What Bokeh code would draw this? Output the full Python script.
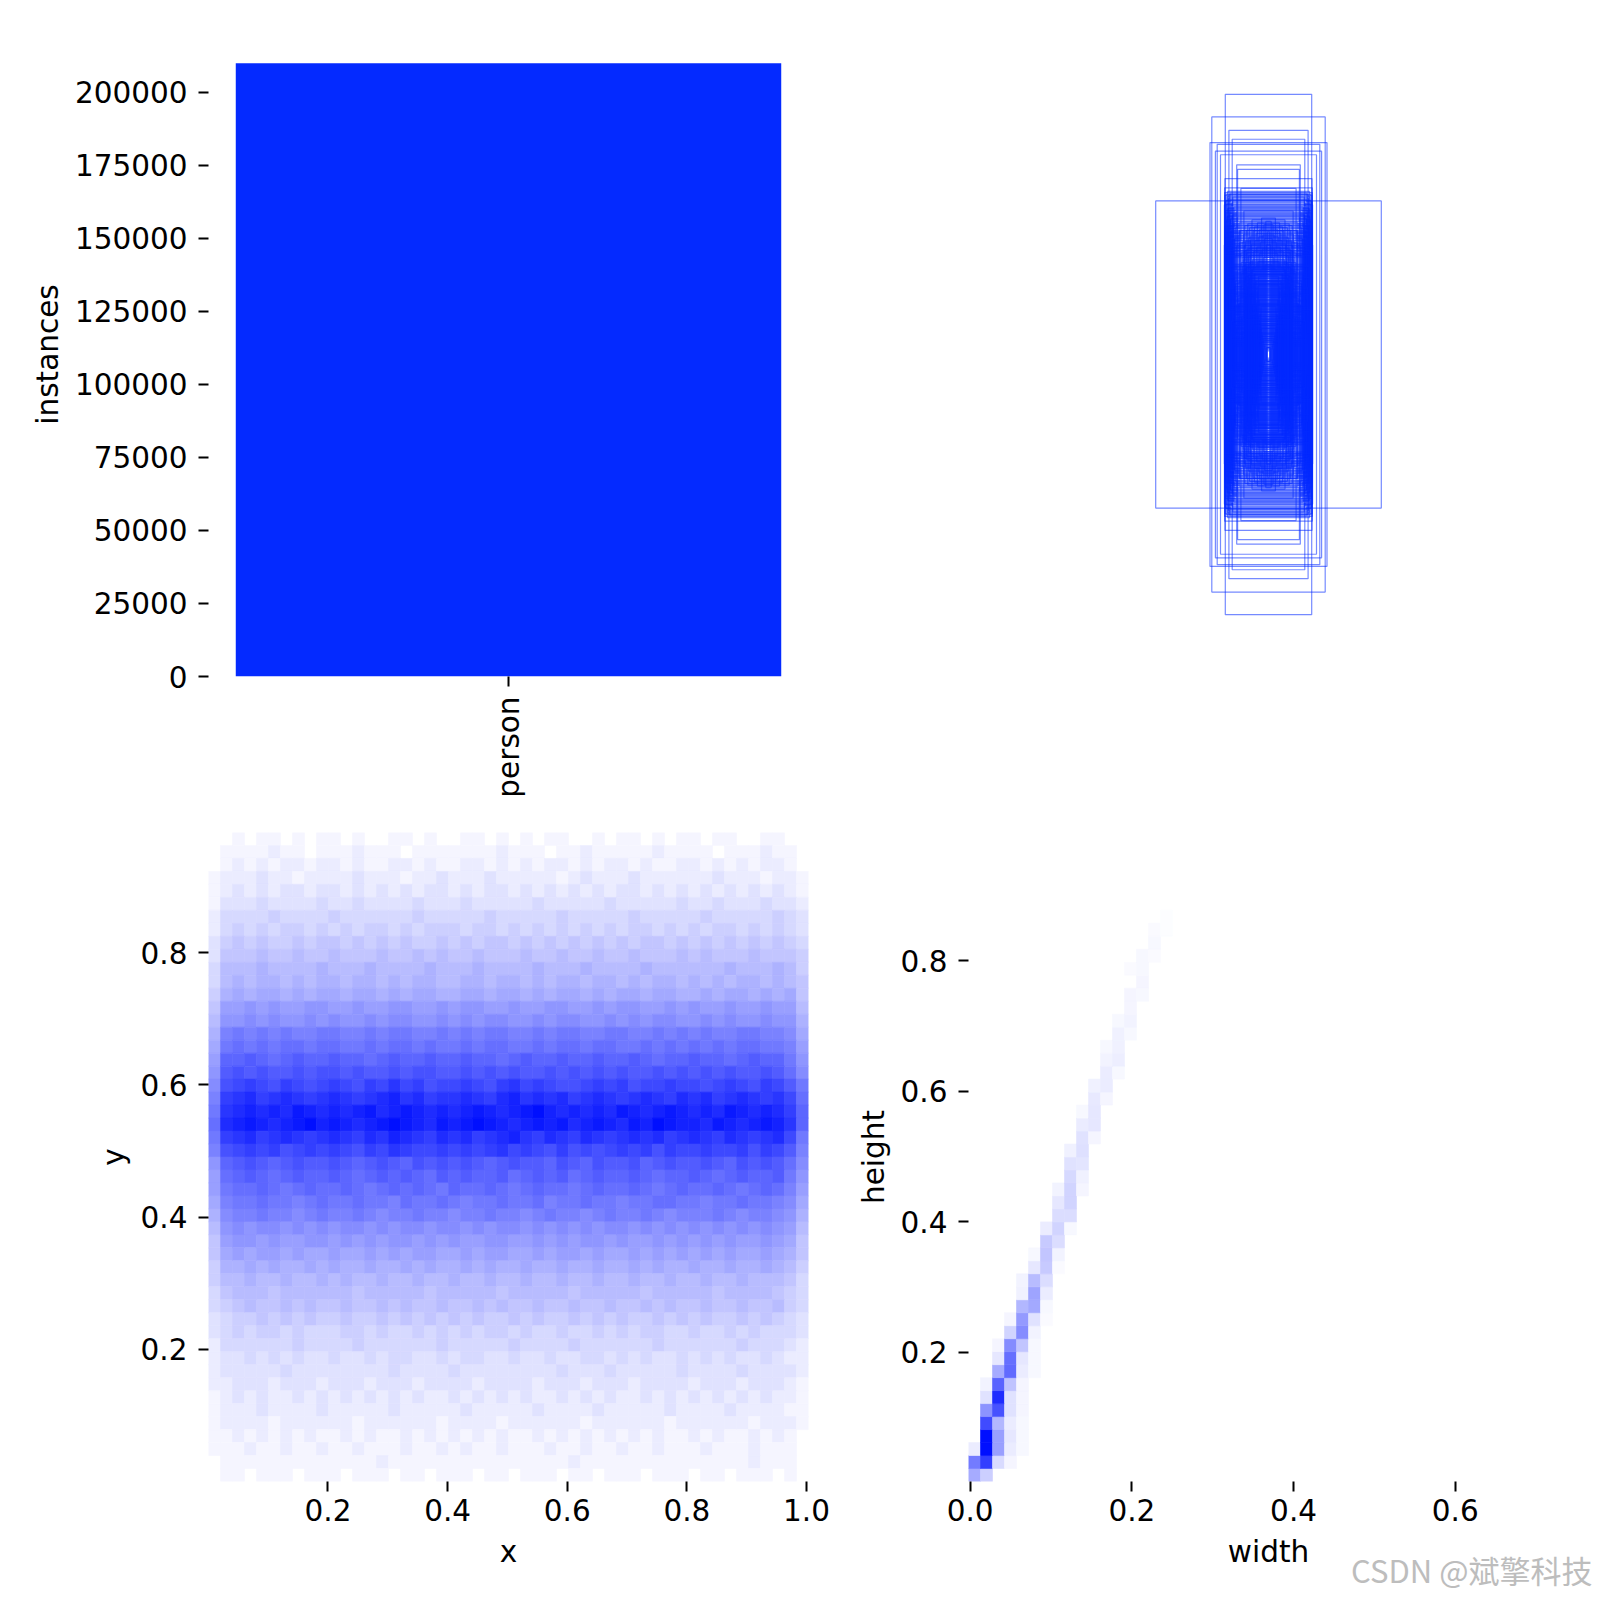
import math
from bokeh.plotting import figure
from bokeh.layouts import column, row
from bokeh.models import (Range1d, FixedTicker, NumeralTickFormatter,
                          PrintfTickFormatter, Title, ColumnDataSource)
from bokeh.embed import file_html
from bokeh.resources import INLINE

# ---------------- data ----------------
class_names = ["person"]
class_counts = [210000]
count_ticks = [0, 25000, 50000, 75000, 100000, 125000, 150000, 175000, 200000]

# boxes (normalised width, height), all drawn centred on the canvas
box_w = [0.144, 0.189, 0.132, 0.121, 0.195, 0.171, 0.177, 0.160, 0.106, 0.103, 0.145, 0.146, 0.376, 0.092, 0.132,
         0.082, 0.097, 0.060, 0.076, 0.057, 0.049, 0.039, 0.005,
         0.146, 0.141, 0.137, 0.132, 0.128, 0.144, 0.121, 0.139, 0.125, 0.117, 0.134, 0.112, 0.143, 0.108, 0.130,
         0.119, 0.136, 0.104, 0.127, 0.140, 0.115, 0.098, 0.131, 0.123, 0.145, 0.110, 0.133, 0.094, 0.126, 0.138,
         0.118, 0.101, 0.129, 0.142, 0.113, 0.122, 0.135, 0.096, 0.124, 0.147, 0.107, 0.120, 0.139, 0.116, 0.131,
         0.092, 0.127, 0.143, 0.111, 0.134,
         0.088, 0.084, 0.091, 0.079, 0.086, 0.075, 0.082, 0.071, 0.089, 0.068, 0.077, 0.064, 0.080, 0.060, 0.073,
         0.057, 0.069, 0.085, 0.053, 0.066, 0.050, 0.062, 0.076, 0.047, 0.059, 0.044, 0.055, 0.070, 0.041, 0.052,
         0.038, 0.049, 0.063, 0.035, 0.046, 0.033, 0.043, 0.058, 0.030, 0.040, 0.028, 0.037, 0.051, 0.026, 0.034,
         0.024, 0.031, 0.045, 0.022, 0.029, 0.020, 0.027, 0.039, 0.018, 0.025, 0.016, 0.023, 0.032, 0.014, 0.021,
         0.012, 0.019, 0.010, 0.017, 0.008, 0.006, 0.005, 0.054, 0.061, 0.048, 0.072, 0.065, 0.078, 0.042, 0.036,
         0.067, 0.074, 0.081, 0.056, 0.087,
         0.004, 0.007, 0.009, 0.011, 0.013, 0.015, 0.017, 0.019, 0.021, 0.023, 0.025, 0.027, 0.029, 0.031, 0.033,
         0.035, 0.037, 0.039, 0.041, 0.043, 0.045, 0.047, 0.049, 0.051, 0.053, 0.055, 0.057, 0.059, 0.061, 0.063,
         0.065, 0.067, 0.069, 0.071, 0.073, 0.075, 0.077, 0.079, 0.081, 0.083,
         0.139, 0.112, 0.127, 0.098, 0.143, 0.118, 0.105, 0.134, 0.089, 0.122, 0.141, 0.108, 0.131, 0.095, 0.125,
         0.145, 0.114, 0.102, 0.136, 0.119, 0.092, 0.129, 0.142, 0.107, 0.133, 0.116, 0.138, 0.101, 0.124, 0.144,
         0.084, 0.121, 0.135, 0.097, 0.128, 0.111, 0.140, 0.086, 0.130, 0.117,
         0.137, 0.128, 0.145, 0.119, 0.133, 0.141, 0.124, 0.147, 0.115, 0.136, 0.129, 0.142, 0.121, 0.138, 0.126,
         0.144, 0.117, 0.134, 0.140, 0.123, 0.146, 0.131, 0.113, 0.139, 0.127, 0.143, 0.120, 0.135, 0.132, 0.145,
         0.131, 0.094, 0.122, 0.141, 0.106, 0.118, 0.137, 0.088, 0.127, 0.113, 0.143, 0.099, 0.124, 0.139, 0.109,
         0.132, 0.091, 0.121, 0.144, 0.115, 0.103, 0.136, 0.126, 0.142, 0.097, 0.119, 0.134, 0.110, 0.140, 0.087,
         0.123, 0.145, 0.102, 0.130, 0.116, 0.138, 0.093, 0.128, 0.112, 0.135,
         0.062, 0.034, 0.075, 0.048, 0.027, 0.069, 0.041, 0.057, 0.079, 0.036, 0.064, 0.045, 0.072, 0.053, 0.029,
         0.066, 0.039, 0.077, 0.051, 0.031, 0.059, 0.073, 0.043, 0.068, 0.055, 0.037, 0.071, 0.047, 0.063, 0.025,
         0.058, 0.076, 0.044, 0.067, 0.033, 0.061, 0.049, 0.074, 0.040, 0.056]
box_h = [0.874, 0.798, 0.753, 0.723, 0.712, 0.706, 0.683, 0.671, 0.637, 0.622, 0.591, 0.560, 0.516, 0.558, 0.537,
         0.482, 0.416, 0.385, 0.310, 0.278, 0.235, 0.166, 0.023,
         0.544, 0.538, 0.531, 0.527, 0.520, 0.516, 0.512, 0.505, 0.501, 0.497, 0.493, 0.488, 0.483, 0.479, 0.474,
         0.470, 0.466, 0.461, 0.457, 0.452, 0.448, 0.444, 0.440, 0.435, 0.431, 0.427, 0.423, 0.418, 0.414, 0.410,
         0.406, 0.402, 0.397, 0.393, 0.389, 0.385, 0.381, 0.376, 0.372, 0.368, 0.364, 0.360, 0.356, 0.351, 0.347,
         0.343, 0.339, 0.335, 0.331, 0.327,
         0.325, 0.318, 0.309, 0.302, 0.296, 0.290, 0.284, 0.279, 0.272, 0.266, 0.261, 0.255, 0.249, 0.244, 0.238,
         0.233, 0.227, 0.222, 0.217, 0.211, 0.206, 0.201, 0.196, 0.190, 0.185, 0.180, 0.175, 0.170, 0.165, 0.160,
         0.155, 0.150, 0.146, 0.141, 0.136, 0.131, 0.127, 0.122, 0.118, 0.113, 0.109, 0.104, 0.100, 0.096, 0.091,
         0.087, 0.083, 0.079, 0.075, 0.071, 0.067, 0.063, 0.059, 0.055, 0.051, 0.047, 0.043, 0.040, 0.036, 0.032,
         0.029, 0.025, 0.022, 0.019, 0.016, 0.023, 0.012, 0.288, 0.312, 0.268, 0.342, 0.357, 0.371, 0.245, 0.214,
         0.331, 0.352, 0.366, 0.304, 0.378,
         0.412, 0.368, 0.447, 0.301, 0.389, 0.436, 0.326, 0.401, 0.354, 0.458, 0.287, 0.377, 0.421, 0.339, 0.395,
         0.312, 0.442, 0.361, 0.407, 0.296, 0.383, 0.429, 0.347, 0.415, 0.318, 0.452, 0.371, 0.398, 0.334, 0.426,
         0.305, 0.392, 0.439, 0.357, 0.418, 0.293, 0.381, 0.433, 0.349, 0.404,
         0.028, 0.041, 0.054, 0.067, 0.079, 0.092, 0.104, 0.117, 0.129, 0.142, 0.154, 0.167, 0.179, 0.192, 0.204,
         0.217, 0.229, 0.242, 0.254, 0.267, 0.279, 0.291, 0.303, 0.047, 0.085, 0.123, 0.161, 0.198, 0.236, 0.273,
         0.061, 0.098, 0.136, 0.173, 0.211, 0.248, 0.286, 0.035, 0.073, 0.111,
         0.548, 0.542, 0.535, 0.529, 0.523, 0.518, 0.509, 0.503, 0.495, 0.490, 0.485, 0.476, 0.468, 0.463, 0.455,
         0.446, 0.438, 0.433, 0.425, 0.416, 0.408, 0.399, 0.391, 0.383, 0.374, 0.366, 0.358, 0.349, 0.341, 0.333,
         0.034, 0.047, 0.060, 0.073, 0.086, 0.099, 0.110, 0.121, 0.133, 0.146, 0.158, 0.171, 0.183, 0.196, 0.208,
         0.221, 0.233, 0.246, 0.258, 0.270, 0.283, 0.295, 0.051, 0.089, 0.127, 0.164, 0.202, 0.239, 0.277, 0.077,
         0.114, 0.151, 0.189, 0.226, 0.263, 0.298, 0.043, 0.069, 0.106, 0.143,
         0.058, 0.071, 0.094, 0.112, 0.139, 0.152, 0.176, 0.193, 0.215, 0.231, 0.257, 0.274, 0.292, 0.065, 0.088,
         0.103, 0.126, 0.147, 0.168, 0.185, 0.207, 0.224, 0.249, 0.268, 0.285, 0.053, 0.081, 0.098, 0.134, 0.161,
         0.181, 0.199, 0.219, 0.238, 0.262, 0.279, 0.299, 0.118, 0.143, 0.171]

# x-y histogram: 50 x 50 bins, rows listed top (y~0.97) to bottom (y~0.01);
# letter a..z = 0..100 % of the colour scale (4 % steps)
xy_x_lim = (0.0003, 1.0033)
xy_y_lim = (0.0004, 0.9814)
xy_rows = [
    "aababbabab babaabbaba abbabababb aababbabab babbaabbaa",
    "abbbbcbbab bbcbbbabbb bbbbcbbbab bcbbbbbcbb bbabbbcbba",
    "abcbcbccbc cbcbbccbcb bccbcbcbcc bcbccbcbbc cbcbcbccba",
    "bcccdccbcc ccdcccbccd cccdcccccb cdcccdcccc ccdcccbccb",
    "bcdcdcddcd dcdcdcdcdd cdcddcdcdc dcdcddcdcd cdcdcdcdcb",
    "bdddedddde ddeddddedd dedddddedd dddeddddde ddedddeddc",
    "ceeeefeeee feeeeeefee eeefeeeeef eeeeefeeee efeeeeefed",
    "cefefeffef efeffefeff feffefefef efefeffefe feffefefed",
    "dfgfgffgfg gfgfgfgffg fgfggfgfgf gfgfgfggfg fgfgfgfgfe",
    "dggghgghgg hggghgghgh gghggghggh gghgghgggh ghggghgggf",
    "ehhhihhhhi hhhihhhhih hhihhhhihh hihhhhihhh hhhihhhihf",
    "ehihiihihi ihiihihiih hiihiihihi ihiihihiih ihihiihihg",
    "fijijjijij jijjijijji ijjijjijij jijijjijji ijijjijijg",
    "gkklklkkll kklkkllkkl kllkklkkll kklkllkklk lkklkklkkh",
    "hllmlmllml mllmlmmllm lmlmmllmlm mllmlmlmml lmlmllmlli",
    "inonononno onnonoonno nonoonnono onnoonnono nonnoonnmj",
    "jopopoppop poopoppopo opoppoopop poppoopopo popoppoonk",
    "kqqrqpqrqq rqqpqrqqrq qrqqpqrqqr qqrqqrqpqq rqqpqrqqol",
    "lrsrsrrsrs srsrrsrssr rsrsrsrrsr srsrsrrsrs rsrsrrsrpm",
    "mstutsutst utsutvtust tutsuvtuts stutusttut tstutsutro",
    "nuvwuvwvuv wvuvwxvwuv vwvuwxvwvw uvwvuvwvuw vwuvwvuvtp",
    "ovwxwxwyxw xwxywxyxwx wxyxwxyzxw xwxwyxwxyx wxwyxwxwuq",
    "pwxyxwxyzx yxwxyzyxwy xyzyxwxyxy wxyxwyxzyx xwyxwxyxvq",
    "ouvwuvwvuv wvuwvxwvuw vwuvwxvuwv uwvuvwvwuv wvuwvuvwto",
    "nstutustut utsutvuttu tutuvtutsu ststutusut tuttusutrn",
    "lqrsrqrsrr srqrsrqsrs rsrqrsrrqs rqsrrsqrsr rsrqsrsrpm",
    "kpqrqpqrqq rqpqrqrqpr qrqqrpqrqr pqrqqrqpqq rqpqrqqrol",
    "koppqpopqp pqpopqpqpo qppqpopqpp opqppqpopq ppqpopqpnk",
    "jnoopoonop oopoonpoop onoopoopno opoonooppo onoopoonmj",
    "imnnonnmno nnonmnnonn mnnonnmnon nmnonnonmn nnonmnnmli",
    "hlmlmmlmlm lmmlmlmmlm mlmlmmlmlm lmlmmlmlml mlmlmlmlkh",
    "gkllklkkll klklkllklk lkkllkklkl kllklkklkl klklkklkjg",
    "gjkjkkjkjj kjjkjkjkkj jkjkkjjkjk kjkjjkjkjk jkjkjjkjig",
    "fiijijiiji jiijiijiji ijijiijiij iijiijijii jiijiijihf",
    "fhhihhihhi hihhihhihh ihhihhihhi hhihhihhih hihhihhhge",
    "eghhhghhhh hhghhhhhgh hhhhghhhhh ghhhhhghhh hhghhhhgfe",
    "efghgghghg ghgghghggh gghghgghgg hgghgghghg ghgghgghfe",
    "deffgfgfgf fgffgfgfgf gfgffgfgff gfgfgffgfg fgffgfgfed",
    "defeffefee effefeefef efeffefeef eefefeffee feefefeeed",
    "ceeeeeefee eefeeeeeef eeeeefeeee feeeeeefee eeeefeeedc",
    "cddedededd eddedeedde deeddedded deedededde dededdedcc",
    "cdddddeddd dddddedddd edddddddde dddeddddde ddddeddddc",
    "ccdddcdddc dddcdddcdd ddcddddcdd dcdddcdddd cdddcdddcb",
    "bcdcdccdcd cdcdcdcdcc dcdcdcdccd cdcdccdcdc dcdcdcdccb",
    "bcccdccccd cccccdcccc cdcccccdcc ccdcccccdc cccdccccbb",
    "bccccbcccc ccbccccccb ccccbccccc cbccccccbc cccccbcccb",
    "bbcbcbcbcb bcbcbbcbcb cbcbcbbcbc bcbcbcbcbb cbcbbcbcba",
    "bbbcbbcbbc bbcbbbcbbc bcbbcbbbcb bcbbcbbcbb bcbbbcbbba",
    "abbbbbbbbb bbbbcbbbbb bbbbbbbbbb cbbbbbbbbb bbbbbcbbba",
    "abbabbbabb babbbabbab bbabbabbba bbabbbabbb abbabbbaba",
]
xy_ticks_x = [0.2, 0.4, 0.6, 0.8, 1.0]
xy_ticks_y = [0.2, 0.4, 0.6, 0.8]

# width-height histogram: 50 x 50 bins; per height-row: first non-empty column and % values
wh_x_lim = (-0.002, 0.740)
wh_y_lim = (0.002, 0.997)
wh_start = [0, 0, 0, 1, 1, 1, 1, 1, 2, 2, 2, 3, 3, 4, 4, 4, 5, 5, 6, 6, 7, 7, 7, 8, 8, 8,
            9, 9, 9, 10, 10, 11, 11, 11, 12, 12, 13, 13, 14, 13, 14, 15, 15, 16]
wh_vals = [
    [35, 20], [55, 80, 15, 4], [8, 100, 40, 8, 3], [100, 40, 10, 3], [75, 30, 8, 3],
    [45, 72, 12, 4], [12, 88, 12, 4], [5, 65, 25, 4], [35, 62, 8, 3], [10, 60, 10, 3],
    [4, 48, 24, 3], [18, 48, 5], [4, 42, 12, 2], [30, 36, 3], [6, 38, 8],
    [5, 28, 14], [10, 22, 2], [3, 24, 5], [22, 14], [8, 18, 3],
    [14, 14], [10, 18], [5, 18, 4], [16, 6], [12, 11],
    [6, 13], [12, 4], [8, 10], [3, 10], [9, 4],
    [6, 8], [8, 3], [5, 7], [3, 6], [6, 3],
    [3, 5], [4], [4, 3], [4], [2, 3],
    [3, 2], [3], [2, 1], [1],
]
wh_ticks_x = [0.0, 0.2, 0.4, 0.6]
wh_ticks_y = [0.2, 0.4, 0.6, 0.8]

watermark = "CSDN @斌擎科技"

# ---------------- styling helpers ----------------
FONT = "DejaVu Sans"
FS = "29.5px"
BAR_BLUE = "#042AFF"
NB = 50


def shade(t):
    r = round(255 * (1 - t))
    g = round(255 * (1 - 0.94 * t))
    return "#%02x%02x%02x" % (r, g, 255)


def style(p):
    p.grid.visible = False
    p.outline_line_color = None
    p.background_fill_color = "white"
    p.border_fill_color = "white"
    for ax in p.axis:
        ax.axis_line_color = None
        ax.major_tick_out = 10
        ax.major_tick_in = 0
        ax.major_tick_line_width = 2
        ax.major_tick_line_color = "black"
        ax.minor_tick_line_color = None
        ax.major_label_text_font = FONT
        ax.major_label_text_font_size = FS
        ax.major_label_text_color = "black"
        ax.axis_label_text_font = FONT
        ax.axis_label_text_font_size = FS
        ax.axis_label_text_font_style = "normal"
        ax.axis_label_text_color = "black"
    for ax in p.xaxis:
        ax.major_label_standoff = 7
        ax.axis_label_standoff = 11
    for ax in p.yaxis:
        ax.major_label_standoff = 11
        ax.axis_label_standoff = 7


def mk(w, h, xr, yr, l, r, t, b, axes=True):
    kw = {}
    if not axes:
        kw = dict(x_axis_type=None, y_axis_type=None)
    return figure(width=w, height=h, x_range=xr, y_range=yr, output_backend="svg",
                  toolbar_location=None, min_border_left=l, min_border_right=r,
                  min_border_top=t, min_border_bottom=b, **kw)


# ---------------- top-left: class counts ----------------
p1 = mk(888, 800, Range1d(-0.44, 0.44), Range1d(0, class_counts[0] * 1.05), 208, 80, 32, 119)
p1.vbar(x=list(range(len(class_names))), top=class_counts, width=0.8, bottom=0,
        fill_color=BAR_BLUE, line_color=None)
style(p1)
p1.xaxis.ticker = FixedTicker(ticks=list(range(len(class_names))))
p1.xaxis.major_label_overrides = {i: n for i, n in enumerate(class_names)}
p1.xaxis.major_label_orientation = math.pi / 2
p1.xaxis.major_label_standoff = 10
p1.yaxis.ticker = FixedTicker(ticks=count_ticks)
p1.yaxis.formatter = NumeralTickFormatter(format="0")
p1.yaxis.axis_label = "instances"

# ---------------- top-right: boxes ----------------
ext = 649 / 600 / 2
p2 = mk(712, 800, Range1d(0, 1), Range1d(0.5 - ext, 0.5 + ext), 80, 32, 32, 119, axes=False)
src = ColumnDataSource(dict(x=[0.5] * len(box_w), y=[0.5] * len(box_w), w=box_w, h=box_h))
p2.rect(x="x", y="y", width="w", height="h", source=src, fill_alpha=0,
        line_color=BAR_BLUE, line_alpha=0.55, line_width=1.2)
style(p2)

# ---------------- bottom-left: x-y histogram ----------------
LET = "abcdefghijklmnopqrstuvwxyz"
p3 = mk(838, 800, Range1d(*xy_x_lim), Range1d(*xy_y_lim), 208, 30, 32, 119)
dx = (xy_x_lim[1] - xy_x_lim[0]) / NB
dy = (xy_y_lim[1] - xy_y_lim[0]) / NB
L, R, B, T, C = [], [], [], [], []
for i, s in enumerate(xy_rows):
    s = s.replace(" ", "")
    s = (s + s[-1] * NB)[:NB]
    r = NB - 1 - i
    for c, ch in enumerate(s):
        lev = LET.index(ch)
        if lev == 0:
            continue
        L.append(xy_x_lim[0] + c * dx)
        R.append(xy_x_lim[0] + (c + 1) * dx)
        B.append(xy_y_lim[0] + r * dy)
        T.append(xy_y_lim[0] + (r + 1) * dy)
        C.append(shade(lev * 0.04))
p3.quad(left=L, right=R, bottom=B, top=T, fill_color=C, line_color=C, line_width=0.6)
style(p3)
p3.xaxis.ticker = FixedTicker(ticks=xy_ticks_x)
p3.yaxis.ticker = FixedTicker(ticks=xy_ticks_y)
p3.xaxis.formatter = PrintfTickFormatter(format="%.1f")
p3.yaxis.formatter = PrintfTickFormatter(format="%.1f")
p3.xaxis.axis_label = "x"
p3.yaxis.axis_label = "y"

# ---------------- bottom-right: width-height histogram ----------------
p4 = mk(762, 800, Range1d(*wh_x_lim), Range1d(*wh_y_lim), 130, 32, 32, 119)
dx = (wh_x_lim[1] - wh_x_lim[0]) / NB
dy = (wh_y_lim[1] - wh_y_lim[0]) / NB
L, R, B, T, C = [], [], [], [], []
for r, (c0, vals) in enumerate(zip(wh_start, wh_vals)):
    for k, v in enumerate(vals):
        c = c0 + k
        L.append(wh_x_lim[0] + c * dx)
        R.append(wh_x_lim[0] + (c + 1) * dx)
        B.append(wh_y_lim[0] + r * dy)
        T.append(wh_y_lim[0] + (r + 1) * dy)
        C.append(shade(v / 100))
p4.quad(left=L, right=R, bottom=B, top=T, fill_color=C, line_color=C, line_width=0.6)
style(p4)
p4.xaxis.ticker = FixedTicker(ticks=wh_ticks_x)
p4.yaxis.ticker = FixedTicker(ticks=wh_ticks_y)
p4.xaxis.formatter = PrintfTickFormatter(format="%.1f")
p4.yaxis.formatter = PrintfTickFormatter(format="%.1f")
p4.xaxis.axis_label = "width"
p4.yaxis.axis_label = "height"

wm = Title(text=watermark, align="right", vertical_align="top",
           text_font="Noto Sans CJK SC", text_font_size="31px",
           text_font_style="normal", text_color="#bdbdbd")
try:
    wm.standoff = -50
    wm.offset = -24
except Exception:
    wm.standoff = 0
p4.add_layout(wm, "below")

layout = column(row(p1, p2), row(p3, p4))
open("out.html", "w").write(file_html(layout, INLINE))
